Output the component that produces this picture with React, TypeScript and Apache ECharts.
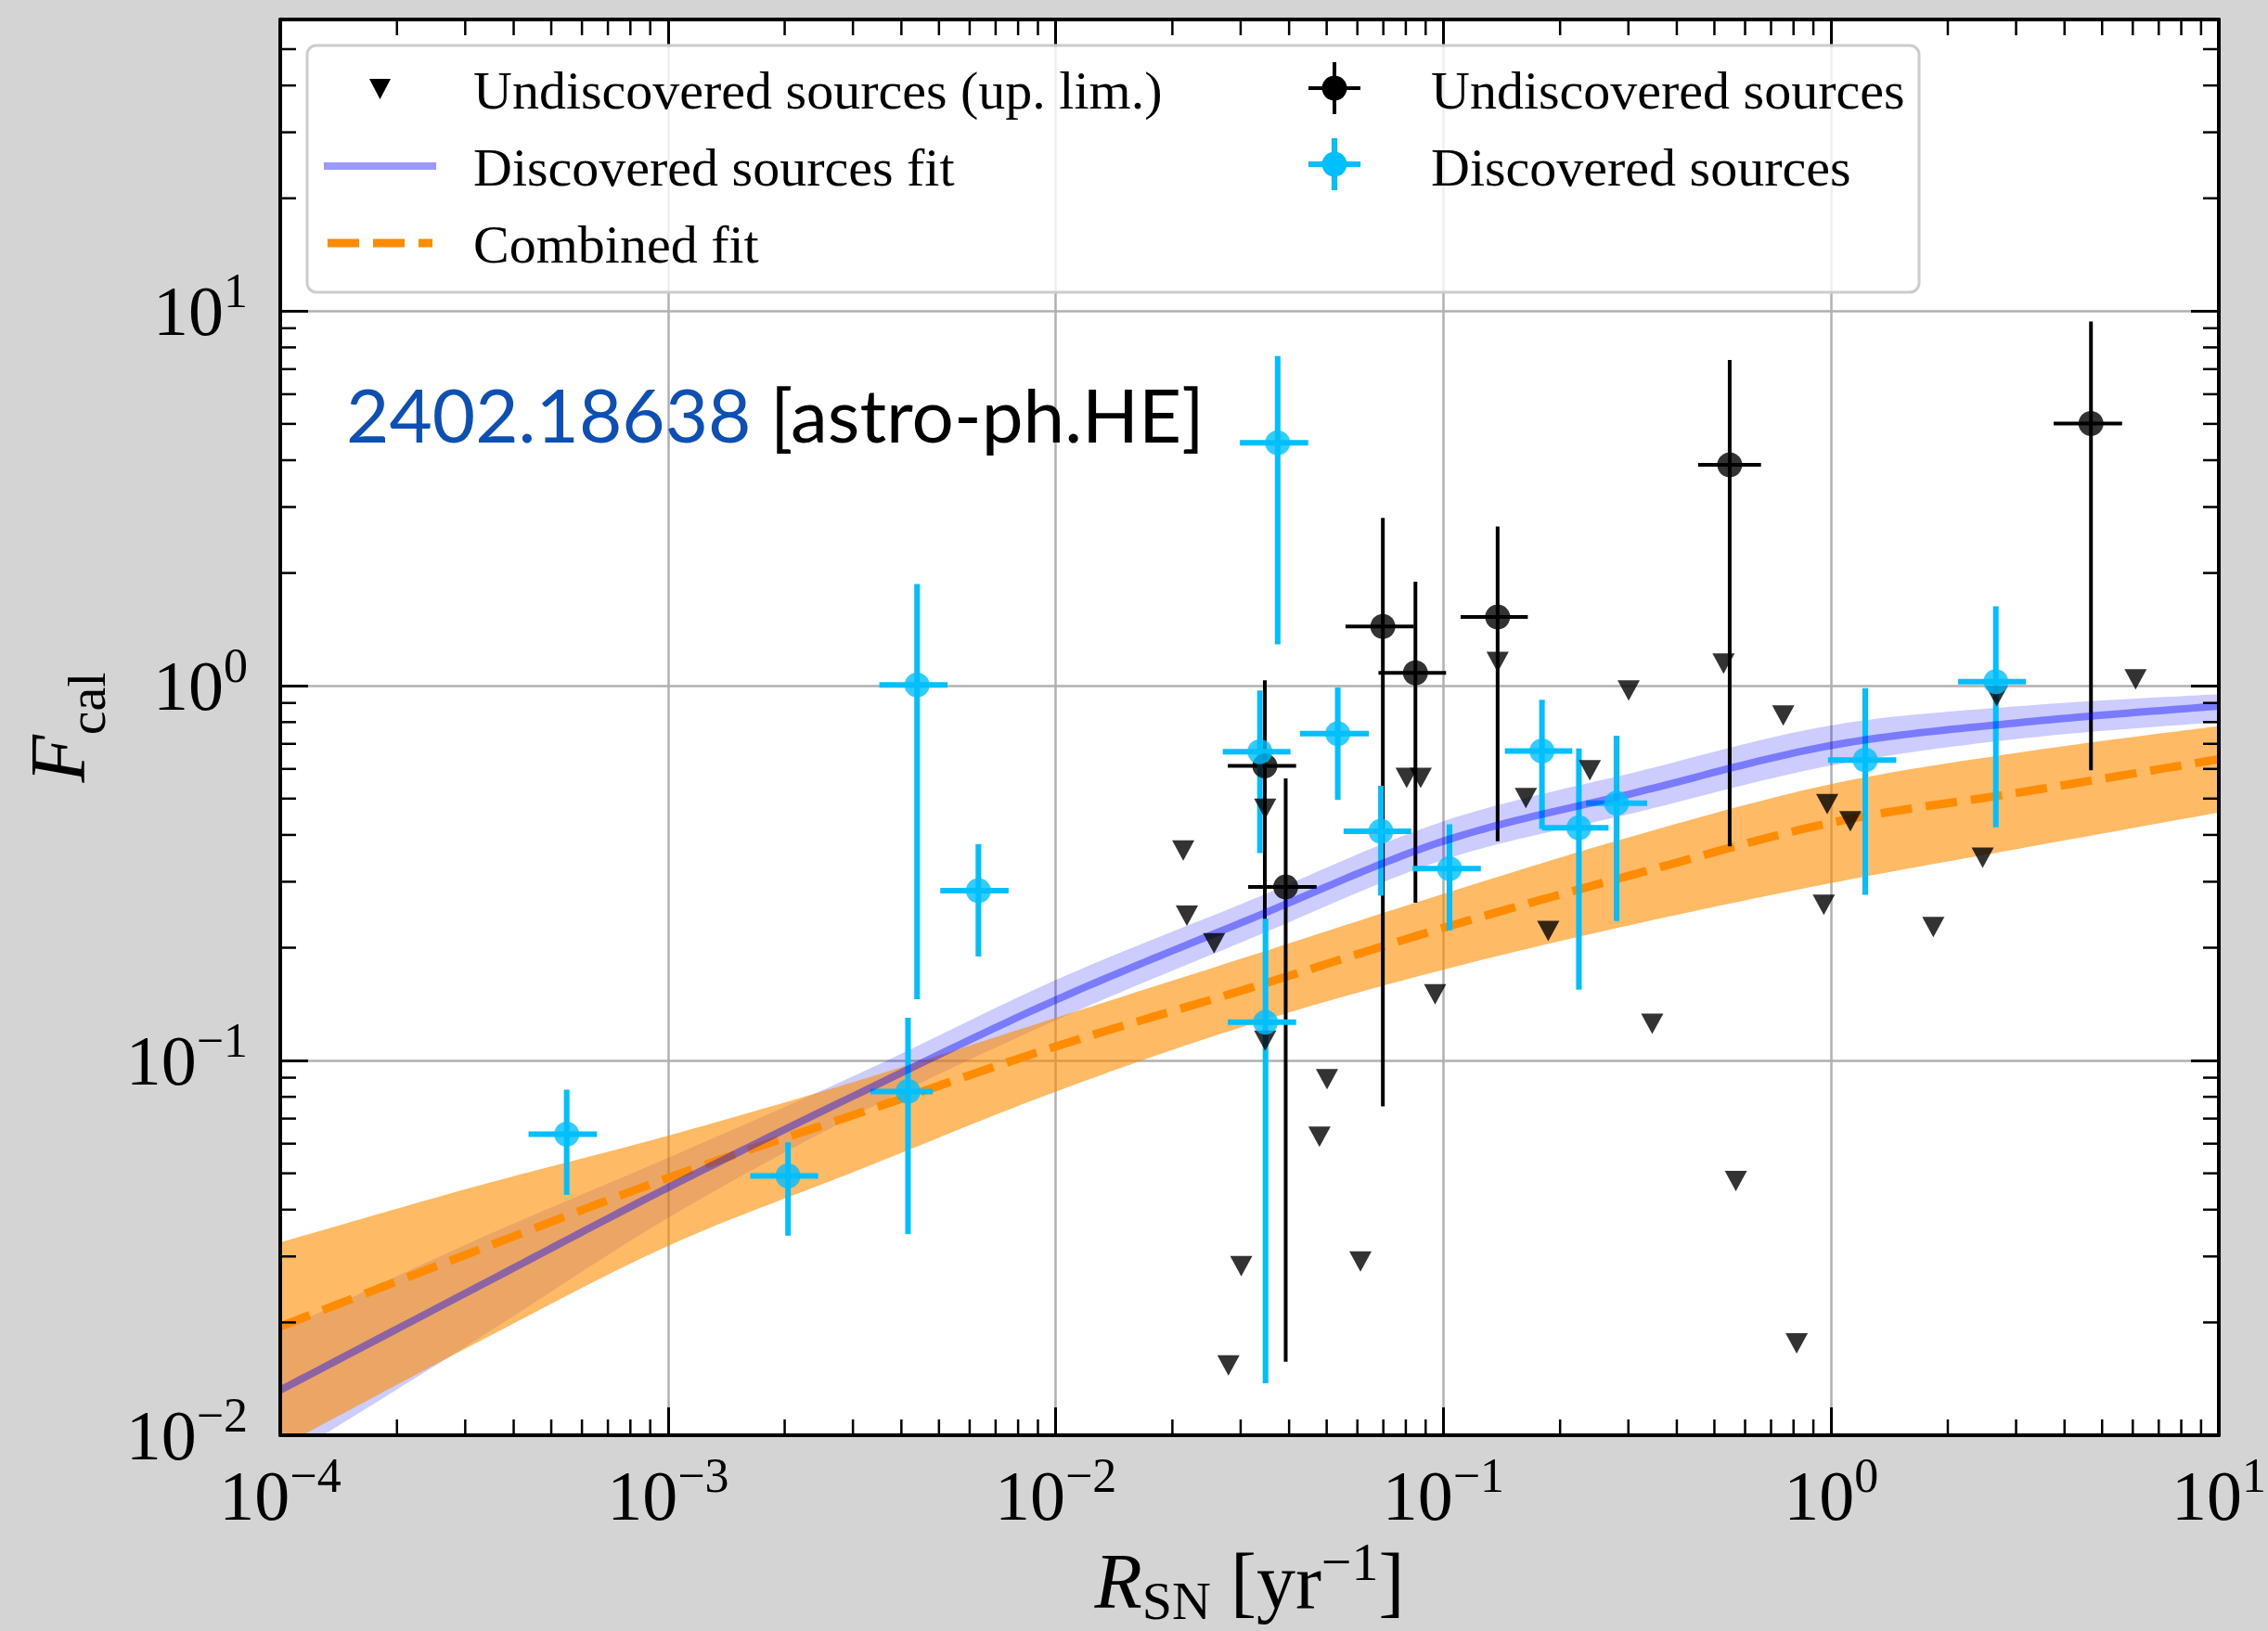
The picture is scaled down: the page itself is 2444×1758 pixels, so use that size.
import React, { useEffect, useRef } from 'react';
import * as echarts from 'echarts';

// ---------- axes ----------
const X_MIN = 1e-4;
const X_MAX = 10;
const Y_MIN = 0.01;
const Y_MAX = 60;

// ---------- fit curves, read at log10(x) = -4, -3.5, ..., 1 ----------
const fitX = [1e-4, 3.16e-4, 1e-3, 3.16e-3, 1e-2, 3.16e-2, 0.1, 0.316, 1, 3.16, 10];
const blueFit = [0.0132, 0.0246, 0.0458, 0.0824, 0.145, 0.238, 0.385, 0.52, 0.693, 0.8, 0.883];
const blueUpper = [0.019, 0.033, 0.055, 0.093, 0.164, 0.267, 0.435, 0.59, 0.784, 0.885, 0.95];
const blueLower = [0.0085, 0.0178, 0.038, 0.0728, 0.128, 0.211, 0.343, 0.46, 0.613, 0.725, 0.8];
const combFit = [0.0195, 0.0309, 0.0486, 0.0728, 0.109, 0.156, 0.226, 0.3155, 0.431, 0.522, 0.637];
const combUpper = [0.0327, 0.046, 0.063, 0.089, 0.13, 0.19, 0.2785, 0.4, 0.5465, 0.667, 0.781];
const combLower = [0.0093, 0.0175, 0.032, 0.0514, 0.0826, 0.1247, 0.1748, 0.232, 0.2975, 0.37, 0.459];

// ---------- discovered sources ----------
const discX = [5.48e-4, 2.04e-3, 4.16e-3, 4.39e-3, 6.32e-3, 0.03364, 0.03737, 0.03477, 0.0534, 0.069, 0.1037, 0.1796, 0.2236, 0.2797, 1.225, 2.66];
const discY = [0.0636, 0.0492, 0.0827, 1.005, 0.284, 0.667, 4.45, 0.1265, 0.745, 0.409, 0.325, 0.67, 0.418, 0.486, 0.634, 1.026];
const discXLo = [4.37e-4, 1.63e-3, 3.33e-3, 3.51e-3, 5.04e-3, 0.02698, 0.02987, 0.0278, 0.04266, 0.0553, 0.0833, 0.1441, 0.1796, 0.2333, 0.982, 2.126];
const discXHi = [6.56e-4, 2.44e-3, 4.82e-3, 5.26e-3, 7.56e-3, 0.04033, 0.0448, 0.0417, 0.0642, 0.0826, 0.1249, 0.215, 0.2666, 0.3354, 1.472, 3.178];
const discYLo = [0.0438, 0.0341, 0.0344, 0.1457, 0.1895, 0.358, 1.29, 0.01376, 0.496, 0.2754, 0.2225, 0.415, 0.1545, 0.2355, 0.277, 0.419];
const discYHi = [0.0836, 0.0605, 0.13, 1.87, 0.378, 0.972, 7.59, 0.239, 0.989, 0.541, 0.427, 0.918, 0.68, 0.736, 0.985, 1.631];

// ---------- undiscovered sources ----------
const undX = [0.0698, 0.0847, 0.138, 0.03463, 0.0392, 0.5476, 4.68];
const undY = [1.44, 1.083, 1.527, 0.611, 0.2906, 3.886, 5.01];
const undXLo = [0.0559, 0.068, 0.1108, 0.0278, 0.03137, 0.454, 3.75];
const undXHi = [0.0839, 0.1016, 0.1651, 0.0417, 0.0471, 0.6595, 5.63];
const undYLo = [0.0755, 0.2638, 0.3845, 0.15, 0.01572, 0.3726, 0.595];
const undYHi = [2.806, 1.895, 2.66, 1.035, 0.566, 7.41, 9.38];

// ---------- undiscovered sources, upper limits ----------
const ulX = [0.02133, 0.0218, 0.02562, 0.0347, 0.0347, 0.0804, 0.0874, 0.138, 0.1632, 0.2386, 0.1864, 0.0952, 0.0501, 0.0479, 0.0301, 0.0611, 0.0279, 0.3456, 0.568, 0.3005, 0.528, 0.7526, 0.9772, 1.121, 0.9575, 1.835, 2.46, 2.674, 6.1, 0.815];
const ulY = [0.3633, 0.2436, 0.2054, 0.4694, 0.1129, 0.5677, 0.5677, 1.158, 0.5018, 0.5954, 0.2217, 0.1502, 0.0892, 0.0626, 0.02825, 0.0291, 0.01535, 0.1253, 0.0477, 0.972, 1.147, 0.833, 0.483, 0.435, 0.2604, 0.2272, 0.3478, 0.937, 1.04, 0.01758];

// ---------- minor tick multipliers / decades ----------
const minorMult = [2, 3, 4, 5, 6, 7, 8, 9];
const xDecades = [-4, -3, -2, -1, 0];
const yDecades = [-2, -1, 0, 1];

const SERIF = '"Liberation Serif", "Times New Roman", serif';
const SANS = 'Lato, "Open Sans", sans-serif';
const CYAN = '#00bfff';

function fmtPow(v: number): string {
  const lg = Math.log10(v);
  const e = Math.round(lg);
  if (Math.abs(lg - e) > 1e-6) return '';
  const es = e < 0 ? '\u2212' + String(-e) : String(e);
  return '{b|10}{e|' + es + '}';
}

const tickRich = {
  b: { fontFamily: SERIF, fontSize: 76, lineHeight: 96, color: '#000', verticalAlign: 'middle' },
  e: { fontFamily: SERIF, fontSize: 52, lineHeight: 52, color: '#000', verticalAlign: 'top' },
};

// Catmull-Rom spline through pixel points (rendering only)
function spline(pts: number[][], segs = 24): number[][] {
  const out: number[][] = [];
  const n = pts.length;
  for (let i = 0; i < n - 1; i++) {
    const p0 = pts[Math.max(0, i - 1)];
    const p1 = pts[i];
    const p2 = pts[i + 1];
    const p3 = pts[Math.min(n - 1, i + 2)];
    for (let s = 0; s < segs; s++) {
      const t = s / segs;
      const t2 = t * t;
      const t3 = t2 * t;
      const f = (a: number, b: number, c: number, d: number) =>
        0.5 * (2 * b + (-a + c) * t + (2 * a - 5 * b + 4 * c - d) * t2 + (-a + 3 * b - 3 * c + d) * t3);
      out.push([f(p0[0], p1[0], p2[0], p3[0]), f(p0[1], p1[1], p2[1], p3[1])]);
    }
  }
  out.push(pts[n - 1]);
  return out;
}

const makeErrRender = (color: string, width: number) => (params: any, api: any) => {
  const x = api.value(0);
  const y = api.value(1);
  const pl = api.coord([api.value(2), y]);
  const ph = api.coord([api.value(3), y]);
  const pb = api.coord([x, api.value(4)]);
  const pt = api.coord([x, api.value(5)]);
  return {
    type: 'group',
    children: [
      { type: 'line', shape: { x1: pl[0], y1: pl[1], x2: ph[0], y2: ph[1] }, style: { stroke: color, lineWidth: width } },
      { type: 'line', shape: { x1: pb[0], y1: pb[1], x2: pt[0], y2: pt[1] }, style: { stroke: color, lineWidth: width } },
    ],
  };
};

const makeBandRender = (xs: number[], hi: number[], lo: number[], fill: string) => (params: any, api: any) => {
  const up = spline(xs.map((x, i) => api.coord([x, hi[i]])));
  const dn = spline(xs.map((x, i) => api.coord([x, lo[i]])));
  return { type: 'polygon', shape: { points: up.concat(dn.reverse()) }, style: { fill } };
};

const makeCurveRender = (xs: number[], ys: number[], style: any) => (params: any, api: any) => {
  const pts = spline(xs.map((x, i) => api.coord([x, ys[i]])));
  return { type: 'polyline', shape: { points: pts }, style: { fill: 'none', ...style } };
};

export default function App() {
  const ref = useRef<HTMLDivElement>(null);

  useEffect(() => {
    document.body.style.margin = '0';
    const chart = echarts.init(ref.current!, null, { renderer: 'svg' });

    const pairs = (xs: number[], ys: number[]) => xs.map((x, i) => [x, ys[i]]);

    const minorData: number[][] = [];
    xDecades.forEach((d) => minorMult.forEach((m) => minorData.push([m * Math.pow(10, d), 1, 0])));
    yDecades.forEach((d) =>
      minorMult.forEach((m) => {
        const v = m * Math.pow(10, d);
        if (v < Y_MAX) minorData.push([1, v, 1]);
      })
    );

    const discData = discX.map((x, i) => [x, discY[i], discXLo[i], discXHi[i], discYLo[i], discYHi[i]]);
    const undData = undX.map((x, i) => [x, undY[i], undXLo[i], undXHi[i], undYLo[i], undYHi[i]]);

    const baseAxisX = { type: 'log', logBase: 10, min: X_MIN, max: X_MAX };
    const baseAxisY = { type: 'log', logBase: 10, min: Y_MIN, max: Y_MAX };
    const frameLine = { show: true, onZero: false, lineStyle: { color: '#000', width: 4 } };
    const majorTick = { show: true, inside: true, length: 30, lineStyle: { color: '#000', width: 3 } };

    const oneItem = [[fitX[0], blueFit[0]]];

    const option: any = {
      animation: false,
      backgroundColor: '#d4d4d4',
      grid: {
        left: 302, top: 21, width: 2089, height: 1526, show: true, backgroundColor: '#ffffff', borderWidth: 0,
        containLabel: false, outerBoundsMode: 'none',
      },
      xAxis: [
        {
          ...baseAxisX, position: 'bottom', z: 0,
          axisLine: { show: false }, axisTick: { show: false }, axisLabel: { show: false },
          splitLine: { show: true, lineStyle: { color: '#b0b0b0', width: 2.5 } },
        },
        {
          ...baseAxisX, position: 'bottom', z: 20,
          axisLine: frameLine, axisTick: majorTick, splitLine: { show: false },
          axisLabel: { show: true, margin: 17, formatter: fmtPow, rich: tickRich },
          name: '{i|R}{s|SN}{n| [yr}{e|\u22121}{n|]}',
          nameLocation: 'middle', nameGap: 104,
          nameTextStyle: {
            fontFamily: SERIF, fontSize: 84, color: '#000',
            rich: {
              i: { fontFamily: SERIF, fontStyle: 'italic', fontSize: 84, lineHeight: 100, color: '#000', verticalAlign: 'middle' },
              s: { fontFamily: SERIF, fontSize: 58, lineHeight: 40, color: '#000', verticalAlign: 'bottom' },
              n: { fontFamily: SERIF, fontSize: 84, lineHeight: 100, color: '#000', verticalAlign: 'middle' },
              e: { fontFamily: SERIF, fontSize: 58, lineHeight: 58, color: '#000', verticalAlign: 'top' },
            },
          },
        },
        {
          ...baseAxisX, position: 'top', z: 20,
          axisLine: frameLine, axisTick: majorTick, splitLine: { show: false }, axisLabel: { show: false },
        },
      ],
      yAxis: [
        {
          ...baseAxisY, position: 'left', z: 0,
          axisLine: { show: false }, axisTick: { show: false }, axisLabel: { show: false },
          splitLine: { show: true, lineStyle: { color: '#b0b0b0', width: 2.5 } },
        },
        {
          ...baseAxisY, position: 'left', z: 20,
          axisLine: frameLine, axisTick: majorTick, splitLine: { show: false },
          axisLabel: { show: true, margin: 35, formatter: fmtPow, rich: tickRich },
          name: '{i|F}{s|cal}',
          nameLocation: 'middle', nameGap: 180, nameRotate: 90,
          nameTextStyle: {
            fontFamily: SERIF, fontSize: 84, color: '#000',
            rich: {
              i: { fontFamily: SERIF, fontStyle: 'italic', fontSize: 84, lineHeight: 120, color: '#000', verticalAlign: 'middle' },
              s: { fontFamily: SERIF, fontSize: 58, lineHeight: 58, color: '#000', verticalAlign: 'bottom' },
            },
          },
        },
        {
          ...baseAxisY, position: 'right', z: 20,
          axisLine: frameLine, axisTick: majorTick, splitLine: { show: false }, axisLabel: { show: false },
        },
      ],
      series: [
        // blue band
        {
          type: 'custom', name: 'blueBand', data: oneItem, encode: { x: 0, y: 1 }, clip: true, silent: true,
          renderItem: makeBandRender(fitX, blueUpper, blueLower, 'rgba(0,0,255,0.2)'),
        },
        // orange band
        {
          type: 'custom', name: 'combBand', data: oneItem, encode: { x: 0, y: 1 }, clip: true, silent: true,
          renderItem: makeBandRender(fitX, combUpper, combLower, 'rgba(255,140,0,0.6)'),
        },
        // combined fit (dashed)
        {
          type: 'custom', name: 'Combined fit', data: oneItem, encode: { x: 0, y: 1 }, clip: true, silent: true,
          renderItem: makeCurveRender(fitX, combFit, { stroke: '#ff8c00', lineWidth: 9, lineDash: [34, 15] }),
        },
        // upper limits
        {
          type: 'scatter', name: 'Undiscovered sources (up. lim.)', data: pairs(ulX, ulY),
          symbol: 'triangle', symbolRotate: 180, symbolSize: [24, 22],
          itemStyle: { color: '#000' },
        },
        // undiscovered error bars + markers
        {
          type: 'custom', name: 'undErr', data: undData, encode: { x: 0, y: 1 },
          renderItem: makeErrRender('#000', 4), clip: true,
        },
        {
          type: 'scatter', name: 'Undiscovered sources', data: pairs(undX, undY),
          symbol: 'circle', symbolSize: 27, itemStyle: { color: '#000' },
        },
        // discovered error bars + markers
        {
          type: 'custom', name: 'discErr', data: discData, encode: { x: 0, y: 1 },
          renderItem: makeErrRender(CYAN, 6), clip: true,
        },
        {
          type: 'scatter', name: 'Discovered sources', data: pairs(discX, discY),
          symbol: 'circle', symbolSize: 27, itemStyle: { color: CYAN },
        },
        // discovered fit line
        {
          type: 'custom', name: 'Discovered sources fit', data: oneItem, encode: { x: 0, y: 1 }, clip: true, silent: true,
          renderItem: makeCurveRender(fitX, blueFit, { stroke: 'rgba(0,0,255,0.4)', lineWidth: 8 }),
        },
        // minor ticks on all four sides
        {
          type: 'custom', name: 'minorTicks', data: minorData, encode: { x: 0, y: 1 }, z: 25, clip: false, silent: true,
          renderItem: (params: any, api: any) => {
            const cs = params.coordSys;
            const kind = api.value(2);
            const st = { stroke: '#000', lineWidth: 2.5 };
            const L = 17;
            if (kind === 0) {
              const px = api.coord([api.value(0), 1])[0];
              return {
                type: 'group', children: [
                  { type: 'line', shape: { x1: px, y1: cs.y + cs.height, x2: px, y2: cs.y + cs.height - L }, style: st },
                  { type: 'line', shape: { x1: px, y1: cs.y, x2: px, y2: cs.y + L }, style: st },
                ],
              };
            }
            const py = api.coord([1, api.value(1)])[1];
            return {
              type: 'group', children: [
                { type: 'line', shape: { x1: cs.x, y1: py, x2: cs.x + L, y2: py }, style: st },
                { type: 'line', shape: { x1: cs.x + cs.width, y1: py, x2: cs.x + cs.width - L, y2: py }, style: st },
              ],
            };
          },
        },
      ],
      graphic: [
        // legend box
        {
          type: 'rect', z: 40,
          shape: { x: 331, y: 49, width: 1737, height: 266, r: 10 },
          style: { fill: 'rgba(255,255,255,0.8)', stroke: '#cccccc', lineWidth: 3 },
        },
        { type: 'polygon', z: 41, shape: { points: [[398, 85], [421, 85], [409.5, 107]] }, style: { fill: '#000' } },
        { type: 'line', z: 41, shape: { x1: 349, y1: 179, x2: 470, y2: 179 }, style: { stroke: 'rgba(0,0,255,0.4)', lineWidth: 8 } },
        { type: 'line', z: 41, shape: { x1: 353, y1: 262, x2: 466, y2: 262 }, style: { stroke: '#ff8c00', lineWidth: 9, lineDash: [34, 15] } },
        { type: 'line', z: 41, shape: { x1: 1438, y1: 67, x2: 1438, y2: 123 }, style: { stroke: '#000', lineWidth: 4 } },
        { type: 'line', z: 41, shape: { x1: 1410, y1: 95, x2: 1466, y2: 95 }, style: { stroke: '#000', lineWidth: 4 } },
        { type: 'circle', z: 41, shape: { cx: 1438, cy: 95, r: 13.5 }, style: { fill: '#000' } },
        { type: 'line', z: 41, shape: { x1: 1438, y1: 149, x2: 1438, y2: 205 }, style: { stroke: CYAN, lineWidth: 6 } },
        { type: 'line', z: 41, shape: { x1: 1410, y1: 177, x2: 1466, y2: 177 }, style: { stroke: CYAN, lineWidth: 6 } },
        { type: 'circle', z: 41, shape: { cx: 1438, cy: 177, r: 13.5 }, style: { fill: CYAN } },
        {
          type: 'text', z: 41, x: 510, y: 97,
          style: { text: 'Undiscovered sources (up. lim.)', font: '58px ' + SERIF, fill: '#000', verticalAlign: 'middle' },
        },
        {
          type: 'text', z: 41, x: 510, y: 180,
          style: { text: 'Discovered sources fit', font: '58px ' + SERIF, fill: '#000', verticalAlign: 'middle' },
        },
        {
          type: 'text', z: 41, x: 510, y: 263,
          style: { text: 'Combined fit', font: '58px ' + SERIF, fill: '#000', verticalAlign: 'middle' },
        },
        {
          type: 'text', z: 41, x: 1542, y: 97,
          style: { text: 'Undiscovered sources', font: '58px ' + SERIF, fill: '#000', verticalAlign: 'middle' },
        },
        {
          type: 'text', z: 41, x: 1542, y: 180,
          style: { text: 'Discovered sources', font: '58px ' + SERIF, fill: '#000', verticalAlign: 'middle' },
        },
        // arXiv tag
        {
          type: 'text', z: 41, x: 373, y: 446,
          style: {
            text: '{a|2402.18638 }{b|[astro-ph.HE]}',
            verticalAlign: 'middle',
            rich: {
              a: { fill: '#0d4fb4', fontFamily: SANS, fontSize: 80 },
              b: { fill: '#000000', fontFamily: SANS, fontSize: 80 },
            },
          },
        },
      ],
    };

    chart.setOption(option);
    return () => chart.dispose();
  }, []);

  return <div ref={ref} style={{ position: 'absolute', left: 0, top: 0, width: 2444, height: 1758 }} />;
}
